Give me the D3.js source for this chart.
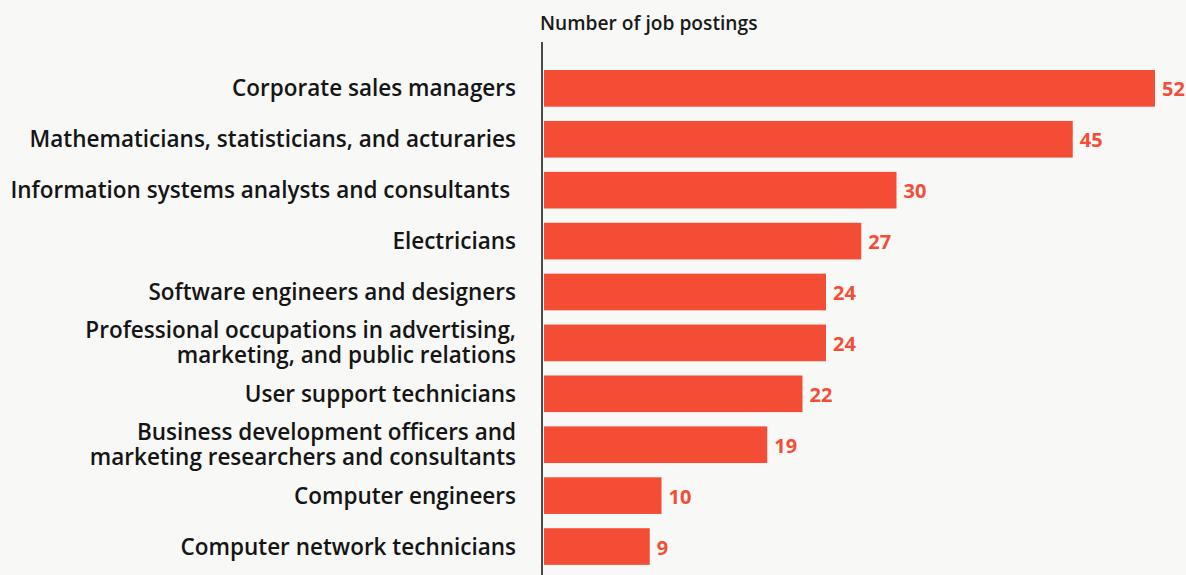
<!DOCTYPE html>
<html>
<head>
<meta charset="utf-8">
<script src="https://cdn.jsdelivr.net/npm/d3@7"></script>
<style>
  html, body { margin: 0; padding: 0; background: #f8f8f7; }
  svg { display: block; font-family: "Open Sans", sans-serif; }
</style>
</head>
<body>
<svg id="chart" width="1186" height="575"></svg>
<script>
const categories = [
  ["Corporate sales managers"],
  ["Mathematicians, statisticians, and acturaries"],
  ["Information systems analysts and consultants "],
  ["Electricians"],
  ["Software engineers and designers"],
  ["Professional occupations in advertising,", "marketing, and public relations"],
  ["User support technicians"],
  ["Business development officers and", "marketing researchers and consultants"],
  ["Computer engineers"],
  ["Computer network technicians"]
];
const values = [52, 45, 30, 27, 24, 24, 22, 19, 10, 9];
const axisTitle = "Number of job postings";

const svg = d3.select("#chart");
const x0 = 544;
const x = d3.scaleLinear().domain([0, 52]).range([x0, 1155]);
const y = d3.scaleBand().domain(d3.range(values.length)).range([62.9, 572]).paddingInner(0.28).paddingOuter(0.14);

svg.append("rect").attr("width", 1186).attr("height", 575).attr("fill", "#f8f8f7");

svg.append("text").attr("x", 540).attr("y", 30)
  .attr("font-size", 19.2).attr("font-weight", 600).attr("fill", "#1a1a1a")
  .text(axisTitle);

svg.selectAll("rect.bar").data(values).join("rect")
  .attr("class", "bar")
  .attr("x", x0)
  .attr("y", (d, i) => y(i))
  .attr("width", d => x(d) - x0)
  .attr("height", y.bandwidth())
  .attr("fill", "#f44d36");

svg.selectAll("text.val").data(values).join("text")
  .attr("class", "val")
  .attr("x", d => x(d) + 7)
  .attr("y", (d, i) => y(i) + y.bandwidth() / 2 + 8)
  .attr("font-size", 20).attr("font-weight", 700).attr("fill", "#f44d36")
  .text(d => d);

const lab = svg.selectAll("text.lab").data(categories).join("text")
  .attr("class", "lab")
  .attr("text-anchor", "end")
  .attr("font-size", 22.5).attr("font-weight", 600).attr("fill", "#151515")
  .style("white-space", "pre");
lab.each(function(lines, i) {
  const t = d3.select(this);
  const cy = y(i) + y.bandwidth() / 2;
  const lh = 25;
  const start = cy + 8 - (lines.length - 1) * lh / 2;
  lines.forEach((ln, j) => {
    t.append("tspan").attr("x", 516).attr("y", start + j * lh).text(ln);
  });
});

svg.append("line").attr("x1", 542).attr("x2", 542).attr("y1", 42).attr("y2", 575)
  .attr("stroke", "#111").attr("stroke-width", 1.5);
</script>
</body>
</html>
